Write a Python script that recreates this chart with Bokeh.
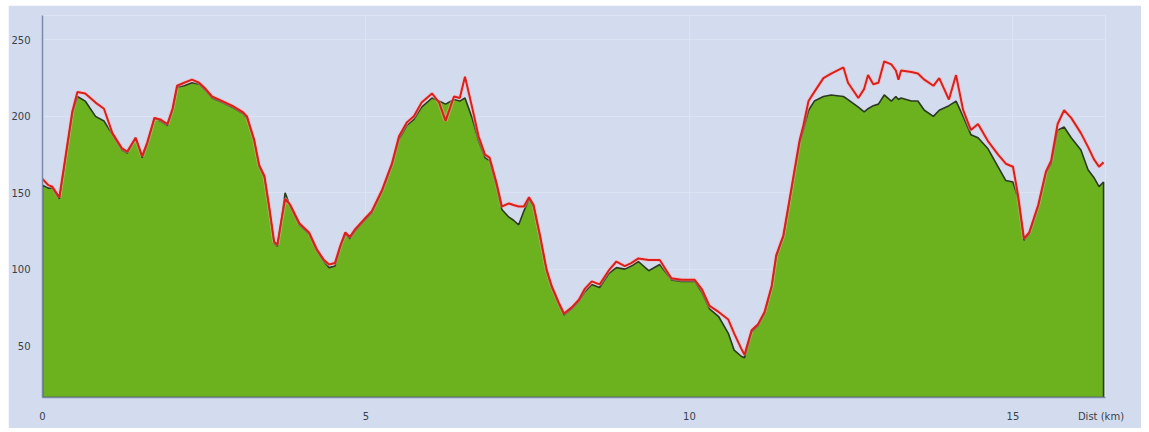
from bokeh.plotting import figure
from bokeh.models import FixedTicker, Range1d, Label, Spacer
from bokeh.layouts import row, column
from bokeh.embed import file_html
from bokeh.resources import INLINE

# distance (km)
dist = [0.00, 0.09, 0.15, 0.26, 0.35, 0.46, 0.54, 0.66, 0.82, 0.95, 1.08, 1.23, 1.31, 1.44, 1.54, 1.62,
        1.73, 1.82, 1.93, 2.01, 2.08, 2.19, 2.31, 2.42, 2.52, 2.62, 2.78, 2.93, 3.09, 3.16, 3.27, 3.35,
        3.43, 3.50, 3.58, 3.63, 3.70, 3.75, 3.83, 3.97, 4.12, 4.24, 4.35, 4.43, 4.52, 4.60, 4.68, 4.75,
        4.83, 4.98, 5.09, 5.25, 5.40, 5.51, 5.63, 5.74, 5.86, 6.02, 6.13, 6.23, 6.36, 6.45, 6.53, 6.64,
        6.74, 6.84, 6.91, 7.02, 7.10, 7.21, 7.28, 7.36, 7.44, 7.52, 7.59, 7.69, 7.79, 7.87, 7.98, 8.06,
        8.18, 8.29, 8.38, 8.49, 8.61, 8.75, 8.87, 9.00, 9.10, 9.21, 9.37, 9.54, 9.72, 9.88, 10.08, 10.19,
        10.31, 10.45, 10.60, 10.69, 10.80, 10.85, 10.96, 11.06, 11.16, 11.27, 11.34, 11.45, 11.54, 11.62,
        11.70, 11.76, 11.84, 11.93, 12.07, 12.19, 12.38, 12.45, 12.61, 12.70, 12.76, 12.84, 12.92, 13.01,
        13.12, 13.19, 13.23, 13.27, 13.43, 13.53, 13.63, 13.77, 13.86, 14.01, 14.12, 14.23, 14.35, 14.46,
        14.61, 14.77, 14.89, 15.00, 15.08, 15.17, 15.25, 15.39, 15.51, 15.59, 15.69, 15.79, 15.90, 16.05,
        16.16, 16.25, 16.33, 16.40]

# altitude, green profile (m)
alt_ground = [155, 153, 153, 146, 171, 202, 213, 210, 200, 197, 188, 178, 176, 186, 173, 182,
              199, 197, 194, 204, 219, 220, 222, 221, 217, 212, 209, 206, 202, 199, 184, 167,
              160, 141, 117, 115, 134, 150, 141, 129, 123, 112, 105, 101, 102, 114, 123, 120,
              125, 132, 137, 151, 168, 185, 194, 198, 206, 212, 210, 208, 211, 210, 212, 199,
              184, 173, 171, 154, 139, 134, 132, 129, 138, 146, 141, 121, 99, 88, 77, 70,
              74, 79, 85, 90, 88, 97, 101, 100, 102, 105, 99, 103, 93, 92, 92, 85,
              74, 69, 58, 47, 43, 42, 59, 63, 71, 88, 108, 121, 143, 163,
              182, 191, 204, 210, 213, 214, 213, 211, 206, 203, 205, 207, 208, 214,
              210, 213, 211, 212, 210, 210, 204, 200, 204, 207, 210, 200, 188, 186,
              179, 167, 158, 157, 146, 119, 123, 141, 163, 169, 191, 193, 186, 178,
              165, 160, 154, 157]

# altitude, red profile (m)
alt_gps = [159, 155, 154, 147, 172, 203, 216, 215, 209, 205, 189, 179, 177, 186, 174, 183,
           199, 198, 195, 205, 220, 222, 224, 222, 218, 213, 210, 207, 203, 200, 185, 168,
           161, 142, 118, 116, 134, 146, 142, 130, 124, 113, 106, 103, 104, 115, 124, 121,
           126, 133, 138, 152, 169, 187, 196, 200, 209, 215, 209, 197, 213, 212, 226, 206,
           187, 175, 173, 156, 141, 143, 142, 141, 141, 147, 142, 122, 100, 89, 78, 71,
           75, 80, 87, 92, 90, 99, 105, 102, 104, 107, 106, 106, 94, 93, 93, 87,
           76, 72, 67, 58, 48, 44, 60, 64, 72, 89, 109, 122, 144, 164,
           184, 194, 210, 216, 225, 228, 232, 222, 212, 218, 227, 221, 222, 236,
           234, 230, 224, 230, 229, 228, 224, 220, 225, 211, 227, 204, 191, 195,
           184, 175, 169, 167, 148, 120, 124, 142, 164, 171, 195, 204, 199, 189,
           180, 172, 167, 170]

x_ticks = [0, 5, 10, 15]
y_ticks = [50, 100, 150, 200, 250]
y_min, y_max = 16, 266
x_max = 16.43

BG = "#d3dcef"

p = figure(width=1133, height=423, output_backend="svg", toolbar_location=None,
           x_range=Range1d(0, x_max), y_range=Range1d(y_min, y_max),
           min_border_left=32, min_border_right=36, min_border_top=10, min_border_bottom=31)
p.background_fill_color = BG
p.border_fill_color = BG
p.outline_line_color = None

xs = [dist[0]] + dist + [dist[-1]]
ys = [y_min] + alt_ground + [y_min]
p.patch(xs, ys, fill_color="#6cb11e", line_color="#2c3a22", line_width=1.6)
p.line(dist, alt_gps, line_color="#ffb0b0", line_width=4, line_alpha=0.45)
p.line(dist, alt_gps, line_color="#dc1f1a", line_width=2)

# axes
p.xaxis.ticker = FixedTicker(ticks=x_ticks + [16.36])
p.xaxis.major_label_overrides = {16.36: "Dist (km)"}
p.yaxis.ticker = FixedTicker(ticks=y_ticks)
for ax in (p.xaxis[0], p.yaxis[0]):
    ax.major_tick_line_color = None
    ax.minor_tick_line_color = None
    ax.major_label_text_font = "DejaVu Sans"
    ax.major_label_text_font_size = "10px"
    ax.major_label_text_color = "#3a3f4a"
    ax.axis_line_color = "#7a8aa6"
    ax.axis_line_width = 1.5
p.xaxis.major_label_standoff = 7
p.yaxis.major_label_standoff = 6

p.xgrid.ticker = FixedTicker(ticks=[5, 10, 15])
p.ygrid.ticker = FixedTicker(ticks=y_ticks)
p.xgrid.grid_line_color = "#e4eaf6"
p.ygrid.grid_line_color = "#e4eaf6"
p.xgrid.grid_line_alpha = 0.55
p.ygrid.grid_line_alpha = 0.55

p.add_layout(Label(x=0, y=y_max, text="Alt (m)", text_font="DejaVu Sans", text_font_size="8px",
                   text_color="#3a3f4a", x_offset=-16, y_offset=0, text_baseline="bottom"))

layout = column(Spacer(height=5), row(Spacer(width=8), p))
open("out.html", "w").write(file_html(layout, INLINE))
